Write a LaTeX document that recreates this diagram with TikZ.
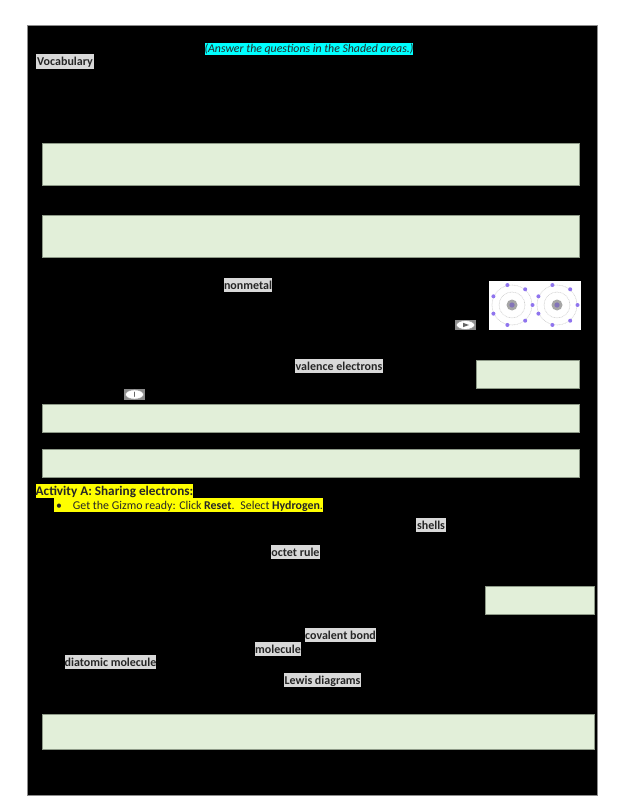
\documentclass[tikz,border=0pt]{standalone}
\usepackage{fontspec}
\setmainfont{Carlito}
\usepackage{tikz}
\definecolor{answergreen}{HTML}{E2EFD9}
\definecolor{answeredge}{HTML}{8E9A88}
\definecolor{termgray}{HTML}{D9D9D9}
\definecolor{electron}{HTML}{8F74EE}
\definecolor{notecyan}{HTML}{00FFFF}
\definecolor{noteyellow}{HTML}{FFFF00}
\tikzset{
  answer/.style={draw=answeredge,line width=0.5pt,fill=answergreen,anchor=north west,inner sep=0pt},
  term/.style={fill=termgray,anchor=center,inner sep=0pt,text height=10pt,text depth=2pt,text=black!85,font=\fontsize{12}{14}\selectfont\bfseries},
  marked/.style={anchor=center,inner sep=0pt,text height=10pt,text depth=2pt,text=black!85,font=\fontsize{11.9}{14}\selectfont},
  shell/.style={draw=black!18,line width=0.6pt,densely dotted},
}
\begin{document}
\begin{tikzpicture}[x=1pt,y=-1pt,cap=round]
\useasboundingbox (0,0) rectangle (617,799);

\fill[white] (0,0) rectangle (617,799);
\draw[fill=black,draw=black!45,line width=0.6pt] (27,25) rectangle (597,795);

% shaded answer areas
\node[answer,minimum width=537pt,minimum height=42.5pt] (area1) at (42,143) {};
\node[answer,minimum width=537pt,minimum height=42.5pt] (area2) at (42,215) {};
\node[answer,minimum width=103pt,minimum height=27.5pt] (area3) at (476,360) {};
\node[answer,minimum width=537pt,minimum height=27.5pt] (area4) at (42,404) {};
\node[answer,minimum width=537pt,minimum height=27.5pt] (area5) at (42,449) {};
\node[answer,minimum width=109pt,minimum height=27.5pt] (area6) at (485,586) {};
\node[answer,minimum width=552pt,minimum height=34.5pt] (area7) at (42,714) {};

% highlighted text
\node[marked,fill=notecyan,minimum width=208pt,minimum height=12pt,font=\fontsize{11.8}{14}\selectfont\itshape] (note) at (309,49) {(Answer the questions in the Shaded areas.)};
\node[term,minimum width=58pt,minimum height=15pt] (vocab) at (65,61.5) {Vocabulary};
\node[term,minimum width=48pt,minimum height=14pt] (nonmetal) at (248,285) {nonmetal};
\node[term,minimum width=88pt,minimum height=14pt] (valence) at (339,366) {valence electrons};
\node[term,minimum width=30pt,minimum height=14pt] (shells) at (431,525) {shells};
\node[term,minimum width=49pt,minimum height=14pt] (octet) at (295.5,552) {octet rule};
\node[term,minimum width=71pt,minimum height=14pt] (covalent) at (340.5,635) {covalent bond};
\node[term,minimum width=46pt,minimum height=14pt] (molecule) at (278,649) {molecule};
\node[term,minimum width=91pt,minimum height=14pt] (diatomic) at (110.5,662) {diatomic molecule};
\node[term,minimum width=77pt,minimum height=14pt] (lewis) at (322.5,680) {Lewis diagrams};

\node[marked,fill=noteyellow,minimum width=157pt,minimum height=14pt,font=\fontsize{13.2}{15}\selectfont\bfseries] (activity) at (114.5,491) {Activity A: Sharing electrons:};
\node[marked,fill=noteyellow,minimum width=269pt,minimum height=14pt,align=left] (ready) at (188.5,505) {\hspace{2pt}\textbullet\hspace{11pt}Get the Gizmo ready: Click \textbf{Reset}.\enspace Select \textbf{Hydrogen}.};

% two atoms
\fill[white] (489,281) rectangle (581,330);
\foreach \cx in {512,557} {
  \draw[shell] (\cx,305) circle (20);
  \draw[shell] (\cx,305) circle (13);
  \fill[black!35] (\cx,305) circle (5.5);
  \fill[electron!70!black!80] (\cx,305) circle (2.6);
  \foreach \ang in {0,50,103,155,205,257,310}
    \fill[electron] (\cx,305) ++(\ang:20.5) circle (2);
}

% small icons
\fill[black!45] (455,320) rectangle (476,330);
\draw[fill=white,draw=black!40,line width=0.5pt] (465.5,325) ellipse (9 and 4.4);
\fill[black!60] (463,322.8) -- (469,325) -- (463,327.2) -- cycle;
\fill[black!45] (124,389) rectangle (145,400);
\draw[fill=white,draw=black!40,line width=0.5pt] (134.5,394.5) ellipse (9 and 4.6);
\draw[black!60,line width=0.8pt] (134.5,392) -- (134.5,396.5);
\end{tikzpicture}
\end{document}
